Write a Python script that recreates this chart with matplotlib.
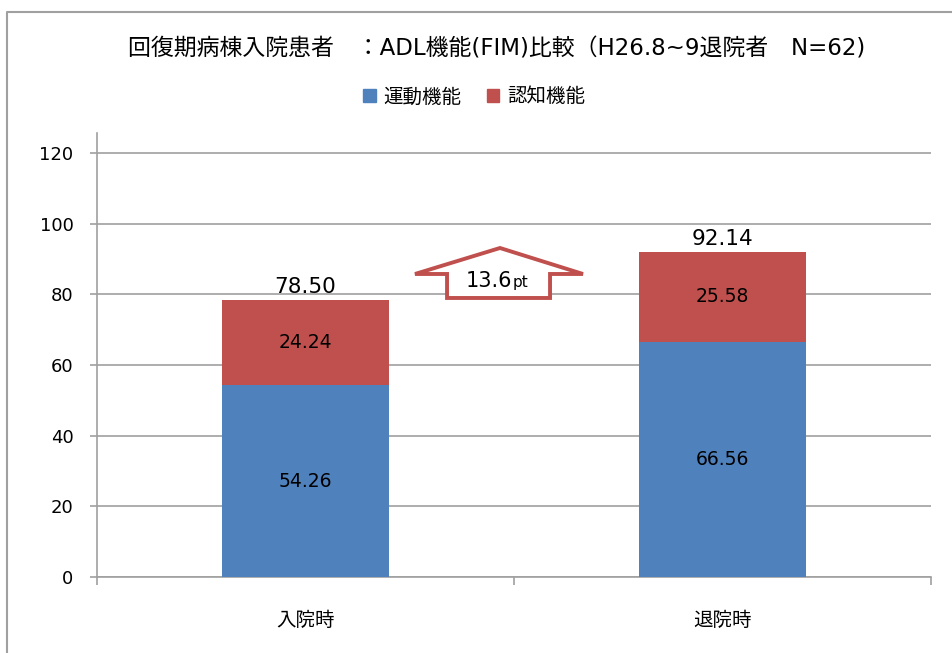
import matplotlib
matplotlib.use("Agg")
import matplotlib.pyplot as plt
import matplotlib.patches as mpatches
from matplotlib.lines import Line2D

# ---- data ----
categories = ["入院時", "退院時"]
motor = [54.26, 66.56]
cognitive = [24.24, 25.58]
totals = [78.50, 92.14]
series_names = ["運動機能", "認知機能"]
yticks = [0, 20, 40, 60, 80, 100, 120]
title = "回復期病棟入院患者　：ADL機能(FIM)比較（H26.8~9退院者　N=62)"

BLUE = "#4f81bd"
RED = "#c0504d"
GREY = "#a0a0a0"
JP = ["Noto Sans CJK JP", "DejaVu Sans"]
MIX = ["DejaVu Sans", "Noto Sans CJK JP"]

W, H = 953, 653
fig = plt.figure(figsize=(W / 100, H / 100), dpi=100)
fig.patch.set_facecolor("white")

# axes placement in pixels
x0, x1 = 97, 931
ybot, ytop = 577, 132.7
ax = fig.add_axes([x0 / W, 1 - ybot / H, (x1 - x0) / W, (ybot - ytop) / H])

xpos = list(range(len(categories)))
ax.bar(xpos, motor, width=0.4, color=BLUE, zorder=3)
ax.bar(xpos, cognitive, width=0.4, bottom=motor, color=RED, zorder=3)

ax.set_xlim(-0.5, len(categories) - 0.5)
ax.set_ylim(0, 125.8)
ax.set_yticks(yticks)
ax.set_yticklabels([str(v) for v in yticks], fontsize=13, family="DejaVu Sans")
ax.yaxis.grid(True, color=GREY, linewidth=1.2, zorder=0)
ax.set_axisbelow(True)

for s in ["top", "right"]:
    ax.spines[s].set_visible(False)
for s in ["left", "bottom"]:
    ax.spines[s].set_color(GREY)
    ax.spines[s].set_linewidth(1.2)

ax.tick_params(axis="y", length=5, width=1.2, color=GREY, pad=12, labelcolor="black")
ax.set_xticks(xpos)
ax.set_xticklabels(categories, fontsize=14, family=JP)
ax.tick_params(axis="x", which="major", length=0, pad=24)
ax.set_xticks([p - 0.5 for p in xpos] + [xpos[-1] + 0.5], minor=True)
ax.tick_params(axis="x", which="minor", length=6, width=1.2, color=GREY)

# segment labels
for i in xpos:
    ax.text(i, motor[i] / 2, f"{motor[i]:.2f}", ha="center", va="center",
            fontsize=13.5, family="DejaVu Sans", zorder=4)
    ax.text(i, motor[i] + cognitive[i] / 2, f"{cognitive[i]:.2f}", ha="center",
            va="center", fontsize=13.5, family="DejaVu Sans", zorder=4)
    ax.annotate(f"{totals[i]:.2f}", xy=(i, totals[i]), xytext=(0, 5),
                textcoords="offset points", ha="center", va="baseline",
                fontsize=15.5, family="DejaVu Sans", zorder=4)

# up arrow annotation (axes fraction coordinates)
arrow_pts = [(0.4832, 0.7405), (0.5827, 0.6820), (0.5432, 0.6820),
             (0.5432, 0.6280), (0.4197, 0.6280), (0.4197, 0.6820),
             (0.3813, 0.6820)]
arrow = mpatches.Polygon(arrow_pts, closed=True, transform=ax.transAxes,
                         facecolor="white", edgecolor=RED, linewidth=2.8,
                         joinstyle="miter", zorder=5)
ax.add_patch(arrow)
diff = totals[1] - totals[0]
ax.text(0.4984, 0.6527, f"{diff:.1f}", transform=ax.transAxes, ha="right",
        va="baseline", fontsize=15, family="DejaVu Sans", zorder=6)
ax.text(0.4984, 0.6527, "pt", transform=ax.transAxes, ha="left",
        va="baseline", fontsize=11, family="DejaVu Sans", zorder=6)

# title
fig.text(497 / W, 1 - 49 / H, title, ha="center", va="center",
         fontsize=16.5, family=MIX)

# legend
handles = [mpatches.Patch(color=BLUE), mpatches.Patch(color=RED)]
fig.legend(handles, series_names, loc="center", bbox_to_anchor=(474 / W, 1 - 97 / H),
           ncol=2, frameon=False, prop={"family": JP, "size": 14},
           handlelength=0.65, handleheight=0.65, handletextpad=0.4,
           columnspacing=1.3, borderpad=0)

# outer chart border (left and top visible)
fig.add_artist(Line2D([7 / W, 7 / W, 1.0], [0.0, 1 - 11.5 / H, 1 - 11.5 / H],
                      transform=fig.transFigure, color=GREY, linewidth=1.5))

fig.savefig("out.png", dpi=100, facecolor="white")
